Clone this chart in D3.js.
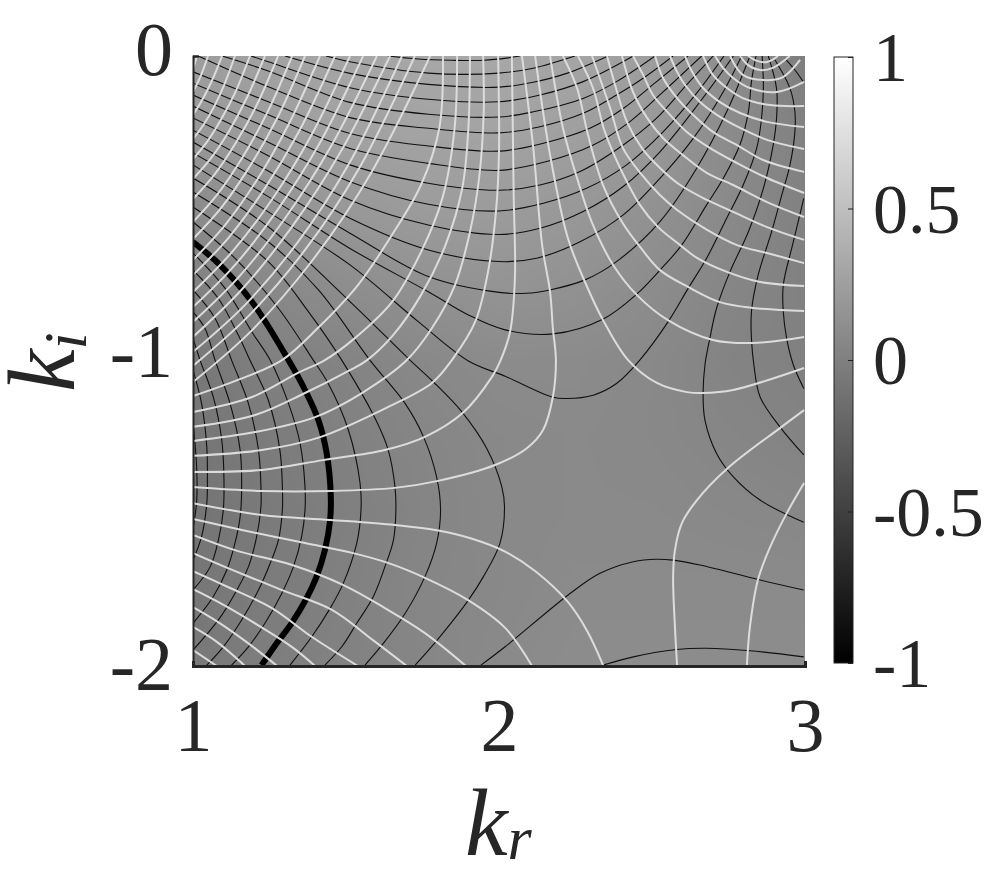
<!DOCTYPE html>
<html><head><meta charset="utf-8">
<script src="https://cdn.jsdelivr.net/npm/d3@7"></script>
<style>
html,body{margin:0;padding:0;background:#fff;width:985px;height:875px;overflow:hidden}
#wrap{position:relative;width:985px;height:875px}
canvas,svg{position:absolute;left:0;top:0}
text{font-family:"Liberation Serif",serif;fill:#262626}
</style></head><body><div id="wrap"></div>
<script>
const krTicks=[1,2,3];
const kiTicks=[0,-1,-2];
const barTicks=[1,0.5,0,-0.5,-1];
const fieldKr=[1,1.25,1.5,1.75,2,2.25,2.5,2.75,3];
const fieldKi=[0,-0.25,-0.5,-0.75,-1,-1.25,-1.5,-1.75,-2];
const fieldValues=[
[.23,.27,.30,.31,.31,.29,.23,.10,-.01],
[.19,.23,.27,.28,.28,.25,.20,.09,.01],
[.09,.15,.19,.22,.22,.19,.14,.08,.01],
[.01,.07,.11,.14,.16,.14,.10,.05,.01],
[-.06,0,.03,.07,.09,.09,.07,.03,.01],
[-.08,-.03,.01,.05,.07,.08,.07,.05,.03],
[-.09,-.04,0,.04,.07,.08,.08,.07,.06],
[-.07,-.03,.01,.05,.07,.09,.09,.09,.09],
[-.05,-.01,.02,.05,.08,.10,.10,.10,.10]];
const thickContour=[[1,-.61],[1.083,-.68],[1.192,-.805],[1.312,-.997],[1.366,-1.095],[1.41,-1.194],[1.437,-1.303],[1.45,-1.434],[1.448,-1.522],[1.431,-1.62],[1.404,-1.707],[1.371,-1.778],[1.322,-1.86],[1.273,-1.926],[1.224,-1.997]];
const blackContours=[
[[1.637,0],[1.736,-.01],[1.845,-.014],[1.95,-.014],[2.03,-.006],[2.068,0]],
[[1.435,0],[1.513,-.019],[1.769,-.056],[2.0,-.056],[2.112,-.04],[2.248,0]],
[[1.301,0],[1.513,-.057],[1.769,-.093],[2.0,-.102],[2.112,-.086],[2.221,-.057],[2.357,0]],
[[1.19,0],[1.246,-.019],[1.513,-.104],[1.769,-.142],[2.0,-.15],[2.134,-.128],[2.275,-.084],[2.439,0]],
[[1.095,0],[1.246,-.049],[1.513,-.152],[1.769,-.191],[2.0,-.2],[2.112,-.183],[2.275,-.139],[2.384,-.084],[2.51,0]],
[[1.017,0],[1.246,-.101],[1.513,-.202],[1.769,-.237],[2.0,-.252],[2.134,-.232],[2.275,-.188],[2.384,-.128],[2.471,-.073],[2.569,0]],
[[1,-.052],[1.246,-.15],[1.513,-.254],[1.769,-.295],[2.0,-.312],[2.145,-.286],[2.297,-.237],[2.406,-.172],[2.515,-.084],[2.618,0]],
[[1,-.089],[1.246,-.193],[1.513,-.303],[1.769,-.352],[2.0,-.375],[2.156,-.346],[2.308,-.292],[2.428,-.215],[2.537,-.117],[2.662,0]],
[[1,-.128],[1.246,-.237],[1.513,-.357],[1.769,-.417],[2.0,-.44],[2.134,-.423],[2.265,-.379],[2.406,-.292],[2.515,-.204],[2.613,-.095],[2.7,0]],
[[1,-.164],[1.246,-.283],[1.513,-.412],[1.769,-.486],[2.0,-.508],[2.145,-.483],[2.286,-.434],[2.417,-.357],[2.537,-.248],[2.646,-.122],[2.735,0]],
[[1,-.203],[1.246,-.327],[1.513,-.472],[1.769,-.554],[2.0,-.585],[2.134,-.565],[2.275,-.51],[2.406,-.428],[2.526,-.314],[2.657,-.15],[2.766,0]],
[[1,-.243],[1.246,-.377],[1.513,-.532],[1.769,-.636],[2.0,-.674],[2.123,-.663],[2.265,-.609],[2.406,-.521],[2.526,-.401],[2.635,-.27],[2.733,-.117],[2.793,0]],
[[1,-.282],[1.246,-.423],[1.513,-.581],[1.769,-.723],[2.0,-.775],[2.09,-.778],[2.166,-.767],[2.281,-.734],[2.384,-.674],[2.526,-.543],[2.646,-.368],[2.744,-.183],[2.82,0]],
[[1,-.318],[1.246,-.461],[1.513,-.631],[1.769,-.773],[1.9,-.849],[2.02,-.898],[2.177,-.911],[2.341,-.862],[2.45,-.781],[2.526,-.702],[2.597,-.62],[2.678,-.489],[2.733,-.401],[2.787,-.292],[2.815,-.183],[2.825,-.084],[2.84,0]],
[[1,-.357],[1.246,-.511],[1.513,-.685],[1.736,-.871],[1.9,-1.0],[2.02,-1.05],[2.177,-1.119],[2.221,-1.123],[2.308,-1.112],[2.384,-1.074],[2.46,-.997],[2.553,-.871],[2.618,-.762],[2.678,-.664],[2.744,-.532],[2.798,-.423],[2.842,-.303],[2.858,-.204],[2.864,-.106],[2.86,0]],
[[1,-.4],[1.246,-.56],[1.513,-.805],[1.709,-.997],[1.785,-1.068],[1.878,-1.166],[1.96,-1.287],[2.009,-1.412],[2.018,-1.478],[2.003,-1.598],[1.949,-1.707],[1.9,-1.784],[1.802,-1.91],[1.726,-1.997]],
[[1,-.446],[1.246,-.609],[1.41,-.767],[1.578,-.997],[1.693,-1.139],[1.753,-1.248],[1.796,-1.38],[1.809,-1.489],[1.796,-1.598],[1.758,-1.707],[1.693,-1.828],[1.622,-1.926],[1.562,-1.997]],
[[1,-.495],[1.246,-.674],[1.377,-.838],[1.486,-.997],[1.595,-1.188],[1.638,-1.292],[1.66,-1.412],[1.663,-1.489],[1.655,-1.587],[1.627,-1.675],[1.589,-1.773],[1.535,-1.86],[1.486,-1.937],[1.431,-1.997]],
[[1,-.544],[1.137,-.663],[1.279,-.827],[1.393,-.997],[1.442,-1.074],[1.508,-1.227],[1.546,-1.401],[1.549,-1.489],[1.535,-1.598],[1.491,-1.729],[1.448,-1.811],[1.388,-1.904],[1.317,-1.997]],
[[1,-.646],[1.105,-.762],[1.192,-.904],[1.252,-.997],[1.312,-1.139],[1.35,-1.27],[1.366,-1.412],[1.366,-1.489],[1.355,-1.576],[1.328,-1.675],[1.29,-1.762],[1.235,-1.86],[1.181,-1.937],[1.126,-1.997]],
[[1,-.702],[1.083,-.795],[1.148,-.915],[1.186,-.997],[1.246,-1.128],[1.284,-1.292],[1.292,-1.412],[1.292,-1.489],[1.279,-1.587],[1.252,-1.664],[1.214,-1.751],[1.159,-1.849],[1.099,-1.937],[1.045,-1.997]],
[[1,-.767],[1.072,-.86],[1.126,-.997],[1.181,-1.139],[1.214,-1.292],[1.222,-1.412],[1.222,-1.478],[1.208,-1.576],[1.181,-1.675],[1.137,-1.762],[1.083,-1.849],[1,-1.948]],
[[1,-.839],[1.039,-.893],[1.072,-.997],[1.121,-1.139],[1.154,-1.292],[1.159,-1.412],[1.154,-1.511],[1.137,-1.598],[1.11,-1.686],[1.066,-1.773],[1,-1.86]],
[[1,-.925],[1.023,-.997],[1.066,-1.117],[1.094,-1.259],[1.101,-1.38],[1.099,-1.489],[1.083,-1.587],[1.056,-1.675],[1,-1.751]],
[[1,-1.03],[1.028,-1.139],[1.045,-1.281],[1.047,-1.39],[1.045,-1.467],[1.028,-1.576],[1,-1.653]],
[[1,-1.2],[1.012,-1.35],[1.012,-1.46],[1,-1.55]],
[[2.88,0],[2.907,-.106],[2.907,-.204],[2.896,-.292],[2.864,-.434],[2.815,-.576],[2.755,-.707],[2.711,-.827],[2.689,-.926],[2.673,-1.013],[2.667,-1.106],[2.673,-1.194],[2.711,-1.303],[2.766,-1.38],[2.853,-1.456],[2.996,-1.529]],
[[2.902,-.013],[2.951,-.106],[2.967,-.183],[2.967,-.248],[2.951,-.357],[2.924,-.456],[2.891,-.576],[2.847,-.718],[2.825,-.838],[2.825,-.926],[2.833,-1.013],[2.853,-1.117],[2.918,-1.216],[2.996,-1.308]],
[[2.996,-.467],[2.962,-.609],[2.929,-.751],[2.929,-.838],[2.94,-.926],[2.962,-1.013],[2.996,-1.09]],
[[2.934,-.008],[2.967,-.046],[2.994,-.084]],
[[1.941,-1.997],[2.02,-1.937],[2.226,-1.767],[2.33,-1.696],[2.439,-1.658],[2.515,-1.65],[2.569,-1.653],[2.657,-1.669],[2.853,-1.718],[2.996,-1.751]],
[[2.341,-1.997],[2.439,-1.97],[2.58,-1.946],[2.678,-1.942],[2.82,-1.95],[2.996,-1.97]]
];
const whiteContours=[
[[1,-.043],[1.013,0]],
[[1,-.118],[1.025,-.066],[1.049,0]],
[[1,-.193],[1.024,-.155],[1.048,-.11],[1.071,-.06],[1.095,0]],
[[1,-.272],[1.034,-.226],[1.069,-.166],[1.103,-.092],[1.137,0]],
[[1,-.338],[1.047,-.28],[1.093,-.206],[1.14,-.115],[1.186,0]],
[[1,-.403],[1.059,-.335],[1.118,-.246],[1.176,-.137],[1.235,0]],
[[1,-.469],[1.07,-.389],[1.139,-.286],[1.209,-.159],[1.278,0]],
[[1,-.544],[1.081,-.452],[1.162,-.332],[1.243,-.185],[1.324,0]],
[[1,-.6],[1.092,-.498],[1.183,-.366],[1.275,-.204],[1.366,0]],
[[1,-.669],[1.104,-.555],[1.208,-.408],[1.311,-.227],[1.415,0]],
[[1,-.718],[1.116,-.596],[1.232,-.438],[1.348,-.244],[1.464,0]],
[[1,-.774],[1.128,-.642],[1.257,-.472],[1.385,-.263],[1.513,0]],
[[1,-.823],[1.139,-.683],[1.278,-.502],[1.417,-.28],[1.556,0]],
[[1,-.872],[1.15,-.724],[1.301,-.532],[1.451,-.296],[1.601,0]],
[[1,-.921],[1.161,-.764],[1.322,-.562],[1.483,-.313],[1.644,0]],
[[1,-.97],[1.171,-.815],[1.342,-.611],[1.512,-.349],[1.683,0]],
[[1,-1.016],[1.181,-.853],[1.363,-.64],[1.544,-.366],[1.725,0]],
[[1,-1.069],[1.194,-.898],[1.388,-.673],[1.581,-.385],[1.775,0]],
[[1,-1.115],[1.147,-1.062],[1.291,-.997],[1.408,-.892],[1.539,-.751],[1.65,-.587],[1.745,-.423],[1.805,-.236],[1.817,0]],
[[1,-1.167],[1.193,-1.118],[1.343,-1.039],[1.431,-.997],[1.529,-.925],[1.65,-.807],[1.745,-.643],[1.815,-.466],[1.855,-.236],[1.863,0]],
[[1,-1.216],[1.203,-1.177],[1.366,-1.105],[1.513,-1.03],[1.569,-.997],[1.654,-.915],[1.745,-.784],[1.825,-.62],[1.88,-.433],[1.9,-.236],[1.905,0]],
[[1,-1.262],[1.203,-1.233],[1.399,-1.184],[1.552,-1.105],[1.699,-.997],[1.781,-.892],[1.856,-.751],[1.905,-.577],[1.935,-.4],[1.95,-.184],[1.948,0]],
[[1,-1.311],[1.225,-1.292],[1.408,-1.252],[1.637,-1.151],[1.781,-1.072],[1.846,-.997],[1.922,-.872],[1.964,-.708],[1.99,-.511],[2.0,-.315],[1.997,0]],
[[1,-1.364],[1.225,-1.357],[1.425,-1.325],[1.627,-1.292],[1.758,-1.249],[1.882,-1.17],[1.977,-1.052],[2.003,-1.003],[2.036,-.905],[2.052,-.728],[2.048,-.456],[2.042,0]],
[[1,-1.413],[1.225,-1.426],[1.454,-1.426],[1.66,-1.416],[1.801,-1.393],[1.987,-1.341],[2.092,-1.285],[2.144,-1.226],[2.176,-1.118],[2.186,-.997],[2.176,-.892],[2.167,-.774],[2.141,-.62],[2.111,-.292],[2.075,0]],
[[1,-1.466],[1.225,-1.505],[1.448,-1.521],[1.66,-1.538],[1.801,-1.556],[1.912,-1.583],[2.02,-1.625],[2.12,-1.69],[2.225,-1.79],[2.288,-1.885],[2.34,-1.997]],
[[1,-1.518],[1.16,-1.554],[1.366,-1.597],[1.523,-1.63],[1.637,-1.662],[1.758,-1.711],[1.899,-1.784],[2.02,-1.875],[2.108,-2]],
[[1,-1.57],[1.137,-1.62],[1.324,-1.669],[1.49,-1.734],[1.627,-1.81],[1.758,-1.892],[1.892,-2]],
[[1,-1.63],[1.114,-1.679],[1.291,-1.751],[1.454,-1.816],[1.588,-1.915],[1.699,-2]],
[[1,-1.689],[1.114,-1.741],[1.258,-1.81],[1.389,-1.905],[1.539,-2]],
[[1,-1.748],[1.082,-1.79],[1.212,-1.866],[1.324,-1.938],[1.399,-2]],
[[1,-1.807],[1.082,-1.856],[1.18,-1.925],[1.275,-2]],
[[1,-1.872],[1.078,-1.921],[1.17,-2]],
[[1,-1.948],[1.078,-2]],
[[2.997,-1.4],[2.941,-1.498],[2.886,-1.61],[2.846,-1.718],[2.82,-1.872],[2.81,-2]],
[[2.997,-1.161],[2.918,-1.22],[2.748,-1.351],[2.647,-1.456],[2.598,-1.531],[2.575,-1.62],[2.569,-1.708],[2.575,-1.872],[2.582,-1.997]],
[[2.118,0],[2.167,-.325],[2.225,-.597],[2.281,-.741],[2.34,-.866],[2.422,-.997],[2.516,-1.072],[2.614,-1.102],[2.667,-1.105],[2.765,-1.095],[2.997,-1.023]],
[[2.167,0],[2.209,-.236],[2.255,-.4],[2.307,-.554],[2.373,-.685],[2.451,-.784],[2.552,-.866],[2.699,-.931],[2.83,-.941],[2.997,-.921]],
[[2.209,0],[2.255,-.105],[2.291,-.259],[2.34,-.423],[2.402,-.544],[2.461,-.626],[2.526,-.702],[2.618,-.757],[2.722,-.807],[2.83,-.826],[2.997,-.836]],
[[2.258,0],[2.307,-.105],[2.346,-.249],[2.402,-.38],[2.461,-.489],[2.52,-.561],[2.592,-.62],[2.647,-.662],[2.745,-.708],[2.853,-.741],[2.997,-.754]],
[[2.304,0],[2.363,-.17],[2.405,-.302],[2.467,-.39],[2.526,-.456],[2.582,-.505],[2.68,-.57],[2.778,-.62],[2.876,-.646],[2.997,-.679]],
[[2.353,0],[2.386,-.118],[2.418,-.216],[2.467,-.302],[2.526,-.367],[2.592,-.423],[2.68,-.472],[2.765,-.511],[2.876,-.561],[2.997,-.603]],
[[2.402,0],[2.438,-.118],[2.484,-.203],[2.536,-.269],[2.601,-.325],[2.68,-.384],[2.765,-.423],[2.876,-.479],[2.997,-.528]],
[[2.438,0],[2.471,-.062],[2.503,-.128],[2.559,-.193],[2.614,-.249],[2.69,-.302],[2.778,-.351],[2.876,-.4],[2.997,-.449]],
[[2.51,0],[2.536,-.072],[2.582,-.138],[2.634,-.193],[2.699,-.249],[2.778,-.292],[2.863,-.341],[2.997,-.38]],
[[2.559,0],[2.582,-.052],[2.608,-.095],[2.657,-.151],[2.712,-.193],[2.788,-.236],[2.876,-.275],[2.997,-.305]],
[[2.608,0],[2.631,-.052],[2.667,-.105],[2.722,-.151],[2.788,-.187],[2.876,-.216],[2.997,-.233]],
[[2.667,0],[2.699,-.062],[2.745,-.105],[2.797,-.138],[2.886,-.161],[2.997,-.164]],
[[2.706,0],[2.732,-.039],[2.765,-.072],[2.82,-.105],[2.908,-.118],[2.997,-.085]],
[[2.755,0],[2.797,-.062],[2.863,-.079],[2.928,-.069],[2.984,-.013]],
[[2.788,0],[2.814,-.03],[2.853,-.046],[2.895,-.039],[2.95,0]],
[[2.814,0],[2.843,-.016],[2.876,-.02],[2.912,0]]
];

const W=985,H=875;
const plot={l:193,r:805,t:56,b:666};
const x=d3.scaleLinear().domain([1,3]).range([plot.l,plot.r]);
const y=d3.scaleLinear().domain([0,-2]).range([plot.t,plot.b]);
const gray=d3.scaleLinear().domain([-1,1]).range(["#000","#fff"]);
const barY=d3.scaleLinear().domain([-1,1]).range([663,57]);
const wrap=d3.select("#wrap");

// background field
const cv=wrap.append("canvas").attr("width",W).attr("height",H).node();
const ctx=cv.getContext("2d");
const ix=d3.scaleLinear().domain(fieldKr).range(d3.range(fieldKr.length));
const iy=d3.scaleLinear().domain(fieldKi).range(d3.range(fieldKi.length));
for(let px=plot.l;px<plot.r;px+=2){for(let py=plot.t;py<plot.b;py+=2){
  const fx=Math.min(ix(x.invert(px)),fieldKr.length-1.001),fy=Math.min(iy(y.invert(py)),fieldKi.length-1.001);
  const i=Math.floor(fx),j=Math.floor(fy),u=fx-i,v=fy-j;
  const val=(1-u)*(1-v)*fieldValues[j][i]+u*(1-v)*fieldValues[j][i+1]+(1-u)*v*fieldValues[j+1][i]+u*v*fieldValues[j+1][i+1];
  ctx.fillStyle=gray(val);ctx.fillRect(px,py,2,2);
}}

const svg=wrap.append("svg").attr("width",W).attr("height",H);
svg.append("defs").append("clipPath").attr("id","plotClip").append("rect")
  .attr("x",plot.l).attr("y",plot.t).attr("width",plot.r-plot.l).attr("height",plot.b-plot.t);
const line=d3.line().x(d=>x(d[0])).y(d=>y(d[1])).curve(d3.curveCatmullRom.alpha(.5));
const marks=svg.append("g").attr("clip-path","url(#plotClip)").attr("fill","none");
marks.selectAll(".blk").data(blackContours).join("path").attr("class","blk").attr("d",line).attr("stroke","#101010").attr("stroke-width",1.1);
marks.append("path").datum(thickContour).attr("d",line).attr("stroke","#000").attr("stroke-width",6);
marks.selectAll(".wht").data(whiteContours).join("path").attr("class","wht").attr("d",line).attr("stroke","#dcdcdc").attr("stroke-width",2);

// axes
const fontSize=76;
const plain=d=>String(d);
const ax=svg.append("g").attr("transform",`translate(0,${plot.b})`)
  .call(d3.axisBottom(x).tickValues(krTicks).tickFormat(plain).tickSize(-5).tickPadding(31));
const ay=svg.append("g").attr("transform",`translate(${plot.l},0)`)
  .call(d3.axisLeft(y).tickValues(kiTicks).tickFormat(plain).tickSize(-6).tickPadding(20));
for(const a of [ax,ay]){
  a.selectAll("text").attr("font-family",'"Liberation Serif",serif').attr("font-size",fontSize).attr("fill","#262626");
  a.selectAll("line").attr("stroke","#222").attr("stroke-width",2);
}
ax.selectAll(".tick").filter(d=>d===2).select("line").remove();
ay.selectAll(".tick").filter(d=>d!==0).select("line").remove();
ax.select(".domain").attr("stroke","#262626").attr("stroke-width",3);
ay.select(".domain").attr("stroke","#262626").attr("stroke-width",2);
ax.selectAll("text").attr("dy","0.71em");
ay.selectAll("text").attr("dy",d=>d===0?"0.24em":d===-1?"0.2em":"0.31em");

// colorbar
const grad=svg.select("defs").append("linearGradient").attr("id","barGrad").attr("x1",0).attr("x2",0).attr("y1",1).attr("y2",0);
d3.range(-1,1.0001,0.25).forEach(v=>grad.append("stop").attr("offset",(v+1)/2).attr("stop-color",gray(v)));
svg.append("rect").attr("x",834).attr("y",57).attr("width",19).attr("height",606).attr("fill","url(#barGrad)").attr("stroke","#222").attr("stroke-width",1);
const ab=svg.append("g").attr("transform","translate(853,0)")
  .call(d3.axisRight(barY).tickValues(barTicks).tickFormat(plain).tickSize(-5).tickPadding(20));
ab.select(".domain").remove();
ab.selectAll("line").attr("stroke","#222");
ab.selectAll("text").attr("font-family",'"Liberation Serif",serif').attr("font-size",70).attr("fill","#262626").attr("dy","0.34em");

// axis titles
const kr=svg.append("text").attr("x",465).attr("y",855).attr("font-style","italic").attr("font-size",96);
kr.append("tspan").text("k");
kr.append("tspan").attr("font-size",62).attr("dy",4).text("r");
const ki=svg.append("text").attr("transform","translate(74,392) rotate(-90)").attr("font-style","italic").attr("font-size",96);
ki.append("tspan").text("k");
ki.append("tspan").attr("font-size",62).attr("dy",12).text("i");
</script></body></html>
